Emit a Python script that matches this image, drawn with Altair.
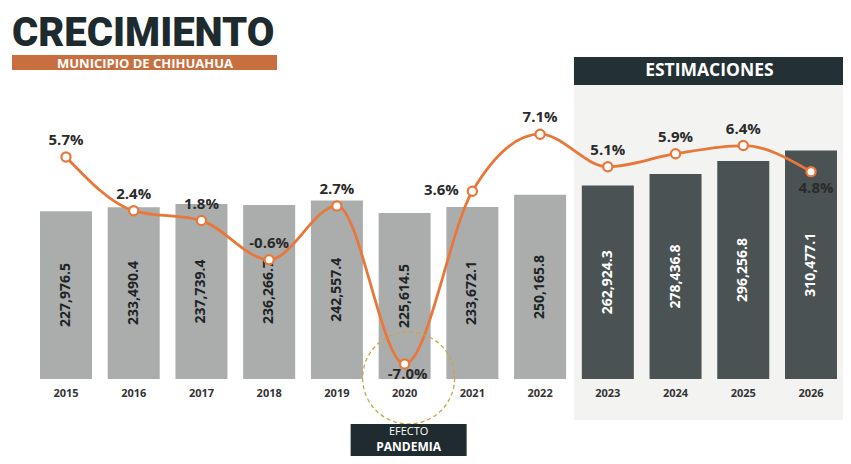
import altair as alt
import pandas as pd

# ---- data ----
years = [2015, 2016, 2017, 2018, 2019, 2020, 2021, 2022, 2023, 2024, 2025, 2026]
values = [227976.5, 233490.4, 237739.4, 236266.7, 242557.4, 225614.5,
          233672.1, 250165.8, 262924.3, 278436.8, 296256.8, 310477.1]
growth = [5.7, 2.4, 1.8, -0.6, 2.7, -7.0, 3.6, 7.1, 5.1, 5.9, 6.4, 4.8]
periods = ["Real"] * 8 + ["Estimación"] * 4

title_text = ["CRECIMIENTO"]
subtitle_text = ["MUNICIPIO DE CHIHUAHUA"]
est_label = ["ESTIMACIONES"]
est_start = [2022.5]
est_end = [2026.5]
est_center = [2024.5]
note_year = [2020]
note_lines = ["EFECTO", "PANDEMIA"]

df = pd.DataFrame({"year": years, "value": values, "growth": growth, "period": periods})
est = pd.DataFrame({"x0": est_start, "x1": est_end, "xc": est_center, "label": est_label})
note = pd.DataFrame({"year": note_year})
note1 = pd.DataFrame({"year": note_year, "t": [note_lines[0]]})
note2 = pd.DataFrame({"year": note_year, "t": [note_lines[1]]})
ttl = pd.DataFrame({"t": title_text, "s": subtitle_text})

FONT = "Open Sans"
ORANGE = "#e8773a"
DARK = "#1f2b2e"

X = alt.Scale(domain=[2015, 2026], range=[53, 808], nice=False, zero=False)
YB = alt.Scale(domain=[0, 504000], range=[371, 0], nice=False, zero=True)
YP = alt.Scale(domain=[-10, 10], range=[404.9, 78.9], nice=False, zero=False)

xq = alt.X("year:Q", scale=X, axis=None)

base = alt.Chart(df)

est_bg = alt.Chart(est).mark_rect(color="#f3f3f1").encode(
    x=alt.X("x0:Q", scale=X, axis=None), x2="x1:Q",
    y=alt.value(77), y2=alt.value(412))
est_head = alt.Chart(est).mark_rect(color="#243134").encode(
    x=alt.X("x0:Q", scale=X, axis=None), x2="x1:Q",
    y=alt.value(49), y2=alt.value(77))
est_text = alt.Chart(est).mark_text(font=FONT, fontSize=17.5, fontWeight="bold",
                                    color="white", baseline="middle").encode(
    x=alt.X("xc:Q", scale=X, axis=None), y=alt.value(63), text="label:N")

bars = base.mark_bar(width=52).encode(
    x=xq,
    y=alt.Y("value:Q", scale=YB, axis=None),
    color=alt.condition("datum.period == 'Real'", alt.value("#abadad"), alt.value("#4b5253")))

vals = base.transform_calculate(mid="datum.value / 2").mark_text(
    angle=270, font=FONT, fontSize=14, fontWeight="bold", align="center", baseline="middle").encode(
    x=xq,
    y=alt.Y("mid:Q", scale=YB, axis=None),
    text=alt.Text("value:Q", format=",.1f"),
    color=alt.condition("datum.period == 'Real'", alt.value("#1e2425"), alt.value("#ffffff")))

yrs = base.mark_text(font=FONT, fontSize=11, fontWeight="bold", color="#333333",
                     baseline="middle").encode(x=xq, y=alt.value(386), text="year:N")

line = base.mark_line(interpolate="monotone", color=ORANGE, strokeWidth=2.8).encode(
    x=xq, y=alt.Y("growth:Q", scale=YP, axis=None))

pts = base.mark_point(shape="circle", size=85, filled=False, fill="white", fillOpacity=1,
                      stroke=ORANGE, strokeWidth=2.2, opacity=1).encode(
    x=xq, y=alt.Y("growth:Q", scale=YP, axis=None))

lbl_base = base.transform_calculate(
    lbl="(datum.growth < 0 ? '-' : '') + format(abs(datum.growth), '.1f') + '%'")

def pct_layer(flt, dx, dy):
    return lbl_base.transform_filter(flt).mark_text(
        font=FONT, fontSize=15, fontWeight="bold", color="#2a2a2a",
        baseline="middle", dx=dx, dy=dy).encode(
        x=xq, y=alt.Y("growth:Q", scale=YP, axis=None), text="lbl:N")

pct_main = pct_layer("datum.year != 2020 && datum.year != 2021 && datum.year != 2026", 0, -17)
pct_2020 = pct_layer("datum.year == 2020", 3, 10)
pct_2021 = pct_layer("datum.year == 2021", -31, -1)
pct_2026 = pct_layer("datum.year == 2026", 5, 16)

circle = alt.Chart(note).mark_point(shape="circle", size=8464, filled=False,
                                    stroke="#c9a44a", strokeWidth=1.3, strokeDash=[4, 3],
                                    opacity=1, xOffset=4).encode(
    x=alt.X("year:Q", scale=X, axis=None), y=alt.value(370))

note_box = alt.Chart(note).mark_bar(width=116, color=DARK, xOffset=4).encode(
    x=alt.X("year:Q", scale=X, axis=None), y=alt.value(416), y2=alt.value(448))
note_t1 = alt.Chart(note1).mark_text(font=FONT, fontSize=11, color="white",
                                     baseline="middle", xOffset=4).encode(
    x=alt.X("year:Q", scale=X, axis=None), y=alt.value(424), text="t:N")
note_t2 = alt.Chart(note2).mark_text(font=FONT, fontSize=12, fontWeight="bold", color="white",
                                     baseline="middle", xOffset=4).encode(
    x=alt.X("year:Q", scale=X, axis=None), y=alt.value(439), text="t:N")

title = alt.Chart(ttl).mark_text(font="Roboto", fontSize=40, fontWeight=900, color="#1d2a2e",
                                 align="left", baseline="alphabetic").encode(
    x=alt.value(4), y=alt.value(38), text="t:N")
band = alt.Chart(ttl).mark_rect(color="#c96e3e").encode(
    x=alt.value(4), x2=alt.value(269), y=alt.value(47), y2=alt.value(62))
subtitle = alt.Chart(ttl).mark_text(font=FONT, fontSize=13, fontWeight="bold", color="white",
                                    baseline="middle").encode(
    x=alt.value(137), y=alt.value(56), text="s:N")

chart = alt.layer(
    est_bg, est_head, est_text, bars, vals, yrs, line, pts,
    pct_main, pct_2020, pct_2021, pct_2026, circle, note_box, note_t1, note_t2,
    title, band, subtitle
).resolve_scale(y="independent").properties(
    width=835, height=448, padding=0,
    autosize=alt.AutoSizeParams(type="none"), background="white"
).configure_view(strokeWidth=0)

chart.save("out.html", embed_options={"renderer": "svg", "actions": False})
